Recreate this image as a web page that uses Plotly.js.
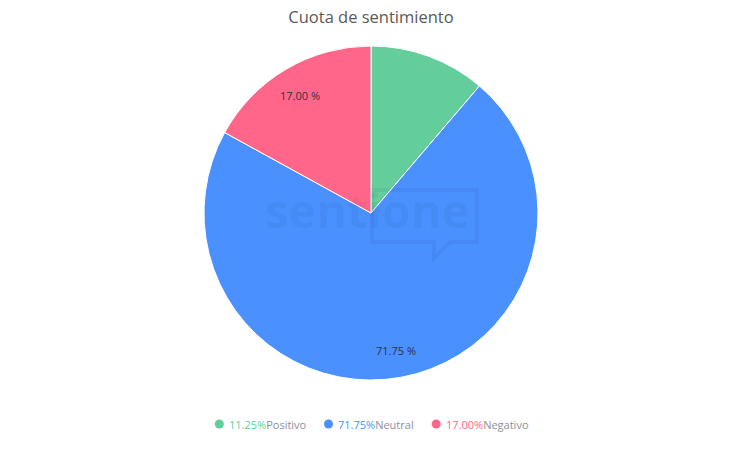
<!DOCTYPE html>
<html>
<head>
<meta charset="utf-8">
<script src="https://cdn.plot.ly/plotly-3.0.1.min.js"></script>
<style>
  html, body { margin: 0; padding: 0; background: #ffffff; }
  #chart { width: 742px; height: 450px; }
</style>
</head>
<body>
<div id="chart"></div>
<script>
// Sentiment share data
const categories = ['Positivo', 'Neutral', 'Negativo'];
const shares = [11.25, 71.75, 17.00];
const sliceColors = ['#63CE9B', '#4A90FF', '#FF6689'];
const showValueLabel = [false, true, true];

// Canvas geometry
const W = 742, H = 450;
const M = { l: 0, r: 0, t: 46, b: 70 };
const plotW = W - M.l - M.r, plotH = H - M.t - M.b;
const px2x = px => (px - M.l) / plotW;
const py2y = py => (H - M.b - py) / plotH;

const FONT = '"Open Sans", "Noto Sans", sans-serif';
const fmt = v => v.toFixed(2);

// Pie centre and radius in pixels (pie fills the square part of the domain)
const R = Math.min(plotW, plotH) / 2;
const cx = M.l + plotW / 2;
const cy = M.t + plotH / 2;

const pie = {
  type: 'pie',
  labels: categories,
  values: shares,
  sort: false,
  direction: 'clockwise',
  rotation: 0,
  marker: { colors: sliceColors, line: { color: '#ffffff', width: 1 } },
  textinfo: 'none',
  hoverinfo: 'none',
  showlegend: false,
  domain: { x: [0, 1], y: [0, 1] }
};

const annotations = [];
const shapes = [];

// Faint brand mark behind the labels
const markColor = 'rgba(20,50,120,0.065)';
annotations.push({
  xref: 'paper', yref: 'paper',
  x: px2x(367), y: py2y(232),
  xanchor: 'center', yanchor: 'bottom',
  yshift: -12,
  text: '<b>sentione</b>',
  showarrow: false,
  font: { family: FONT, size: 47, color: markColor }
});
const bubble = [
  [372, 190], [477, 190], [477, 242], [450, 242], [434, 258], [434, 242], [372, 242]
];
shapes.push({
  type: 'path',
  xref: 'paper', yref: 'paper',
  path: 'M ' + bubble.map(p => px2x(p[0]) + ',' + py2y(p[1])).join(' L ') + ' Z',
  line: { color: markColor, width: 4 },
  fillcolor: 'rgba(0,0,0,0)',
  layer: 'above'
});

// Value labels placed along each slice's bisector
const total = shares.reduce((a, b) => a + b, 0);
let cum = 0;
shares.forEach((v, i) => {
  const mid = (cum + v / 2) / total * 2 * Math.PI;
  cum += v;
  if (!showValueLabel[i]) return;
  const rf = 0.83;
  const lx = cx + rf * R * Math.sin(mid);
  const ly = cy - rf * R * Math.cos(mid) + 1.5;
  annotations.push({
    xref: 'paper', yref: 'paper',
    x: px2x(lx), y: py2y(ly),
    xanchor: 'center', yanchor: 'middle',
    text: fmt(v) + ' %',
    showarrow: false,
    font: { family: FONT, size: 11, color: '#2e3340' }
  });
});

// Custom legend: dot, coloured percentage, grey category name
const legendFontSize = 11;
const ctx = document.createElement('canvas').getContext('2d');
ctx.font = legendFontSize + 'px ' + FONT;
const dotR = 4.5, dotGap = 4, itemGap = 19;
const items = categories.map((c, i) => {
  const pct = fmt(shares[i]) + '%';
  const w = ctx.measureText(pct + c).width;
  return { c, pct, w, color: sliceColors[i] };
});
const totalW = items.reduce((s, it) => s + 2 * dotR + dotGap + it.w, 0) + itemGap * (items.length - 1);
let x0 = W / 2 - totalW / 2;
const legendY = 424;
items.forEach(it => {
  shapes.push({
    type: 'circle',
    xref: 'paper', yref: 'paper',
    x0: px2x(x0), x1: px2x(x0 + 2 * dotR),
    y0: py2y(legendY + dotR), y1: py2y(legendY - dotR),
    fillcolor: it.color,
    line: { width: 0 }
  });
  annotations.push({
    xref: 'paper', yref: 'paper',
    x: px2x(x0 + 2 * dotR + dotGap), y: py2y(legendY),
    xanchor: 'left', yanchor: 'middle',
    borderpad: 0,
    text: '<span style="color:' + it.color + '">' + it.pct + '</span>' + it.c,
    showarrow: false,
    font: { family: FONT, size: legendFontSize, color: '#8c8f9c' }
  });
  x0 += 2 * dotR + dotGap + it.w + itemGap;
});

const layout = {
  width: W, height: H,
  margin: M,
  paper_bgcolor: '#ffffff',
  plot_bgcolor: '#ffffff',
  title: {
    text: 'Cuota de sentimiento',
    x: 0.5, xanchor: 'center',
    y: 1 - 17 / H, yref: 'container', yanchor: 'middle',
    font: { family: FONT, size: 16.5, color: '#595959' }
  },
  showlegend: false,
  annotations: annotations,
  shapes: shapes
};

Plotly.newPlot('chart', [pie], layout, { displayModeBar: false, staticPlot: true });
</script>
</body>
</html>
